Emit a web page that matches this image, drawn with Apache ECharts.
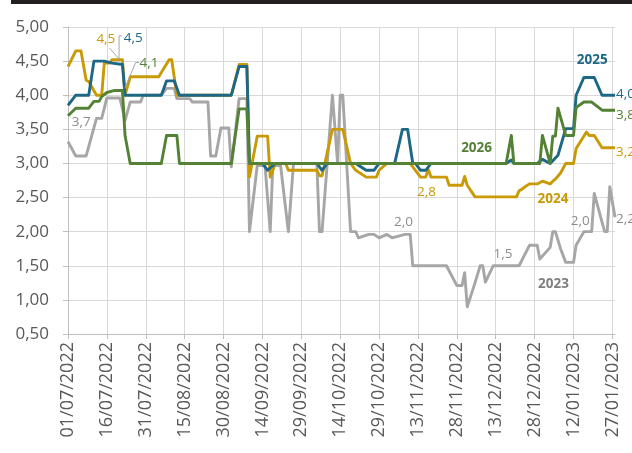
<!DOCTYPE html>
<html>
<head>
<meta charset="utf-8">
<script src="https://cdn.jsdelivr.net/npm/echarts@6/dist/echarts.min.js"></script>
<style>
html,body{margin:0;padding:0;background:#fff;}
#c{width:632px;height:453px;}
</style>
</head>
<body>
<div id="c"></div>
<script>
// x values are days counted from 01/07/2022
const tickLabels = ['01/07/2022','16/07/2022','31/07/2022','15/08/2022','30/08/2022','14/09/2022','29/09/2022','14/10/2022','29/10/2022','13/11/2022','28/11/2022','13/12/2022','28/12/2022','12/01/2023','27/01/2023'];
const seriesNames = ['2023','2024','2025','2026'];

const s2023 = [[0,3.32],[3,3.11],[7,3.11],[11,3.66],[13,3.66],[15,3.96],[20,3.96],[22,3.63],[24,3.9],[28,3.9],[29,4.0],[36,4.0],[38,4.1],[41,4.1],[42,3.95],[47,3.95],[48,3.9],[54,3.9],[55,3.11],[57,3.11],[59,3.52],[62,3.52],[63,2.95],[66,3.95],[69,3.95],[70,2.0],[73,2.97],[76,2.97],[78,2.0],[79,2.97],[82,2.97],[85,2.0],[87,3.0],[96,3.0],[97,2.0],[98,2.0],[102,4.0],[104,3.0],[105,4.0],[106,4.0],[109,2.0],[111,2.0],[112,1.91],[116,1.96],[118,1.96],[120,1.91],[123,1.96],[125,1.91],[130,1.96],[132,1.96],[133,1.5],[146,1.5],[150,1.21],[152,1.21],[153,1.4],[154,0.9],[157,1.25],[159,1.5],[160,1.5],[161,1.26],[164,1.5],[174,1.5],[178,1.8],[181,1.8],[182,1.6],[186,1.77],[187,2.0],[188,2.0],[190,1.75],[192,1.55],[195,1.55],[196,1.8],[199,2.0],[202,2.0],[203,2.56],[207,2.0],[208,2.0],[209,2.66],[211,2.21]];

const s2024 = [[0,4.42],[3,4.65],[5,4.65],[7,4.22],[8,4.2],[11,4.0],[13,4.0],[14,4.47],[16,4.47],[17,4.52],[21,4.52],[22,4.0],[24,4.27],[35,4.27],[39,4.52],[40,4.52],[42,4.0],[63,4.0],[66,4.45],[69,4.45],[70,2.8],[71,3.0],[73,3.4],[77,3.4],[78,2.8],[80,3.0],[84,3.0],[85,2.9],[96,2.9],[97,2.82],[98,2.82],[102,3.5],[106,3.5],[109,3.0],[111,2.9],[115,2.8],[119,2.8],[120,2.9],[123,3.0],[132,3.0],[134,2.9],[136,2.8],[138,2.8],[139,2.91],[140,2.8],[146,2.8],[147,2.68],[152,2.68],[153,2.81],[154,2.68],[157,2.51],[173,2.51],[174,2.6],[175,2.62],[176,2.65],[178,2.7],[181,2.7],[183,2.74],[186,2.7],[187,2.74],[188,2.77],[190,2.86],[192,3.0],[195,3.0],[196,3.22],[200,3.46],[201,3.41],[203,3.41],[206,3.23],[211,3.23]];

const s2025 = [[0,3.85],[3,4.0],[8,4.0],[10,4.5],[14,4.5],[17,4.47],[21,4.45],[22,4.0],[36,4.0],[38,4.21],[41,4.21],[43,4.0],[63,4.0],[66,4.42],[69,4.42],[70,3.0],[75,3.0],[77,2.9],[80,3.0],[96,3.0],[98,2.9],[100,3.0],[111,3.0],[115,2.9],[118,2.9],[120,3.0],[126,3.0],[129,3.5],[131,3.5],[133,3.0],[134,3.0],[136,2.9],[138,2.9],[140,3.0],[169,3.0],[171,3.05],[172,3.0],[181,3.0],[183,3.06],[186,3.0],[188,3.08],[189,3.12],[192,3.51],[195,3.51],[196,4.0],[199,4.26],[203,4.26],[206,4.0],[211,4.0]];

const s2026 = [[0,3.7],[3,3.81],[8,3.81],[10,3.91],[12,3.91],[13,3.98],[15,4.04],[18,4.07],[21,4.07],[22,3.41],[24,3.0],[36,3.0],[38,3.41],[42,3.41],[43,3.0],[63,3.0],[66,3.8],[69,3.8],[70,3.0],[169,3.0],[171,3.41],[172,3.0],[182,3.0],[183,3.41],[186,3.0],[187,3.4],[188,3.4],[189,3.81],[192,3.41],[195,3.41],[196,3.82],[199,3.9],[202,3.9],[206,3.78],[211,3.78]];

const COLORS = {'2023':'#A6A6A6','2024':'#C99A06','2025':'#1D6787','2026':'#548235'};
const TEXTC = {'2023':'#8C8C8C','2024':'#C99A06','2025':'#1D6787','2026':'#548235'};
const FONT = '"Open Sans", "Liberation Sans", sans-serif';

const chart = echarts.init(document.getElementById('c'), null, {renderer:'canvas'});
const dataBy = {'2023':s2023,'2024':s2024,'2025':s2025,'2026':s2026};

chart.setOption({
  animation:false,
  backgroundColor:'#fff',
  grid:{left:68, right:17, top:27, bottom:119, containLabel:false},
  xAxis:{
    type:'value', min:0, max:211, interval:15,
    axisLine:{show:true, lineStyle:{color:'#BFBFBF', width:1}},
    axisTick:{show:true, length:5, lineStyle:{color:'#BFBFBF'}},
    splitLine:{show:true, showMaxLine:false, lineStyle:{color:'#D9D9D9', width:1}},
    axisLabel:{
      rotate:90, margin:8, color:'#595959', fontFamily:FONT, fontSize:18, showMaxLabel:false,
      formatter:function(v){ return (v % 15 === 0) ? (tickLabels[v/15] || '') : ''; }
    }
  },
  yAxis:{
    type:'value', min:0.5, max:5, interval:0.5,
    axisLine:{show:true, lineStyle:{color:'#BFBFBF', width:1}},
    axisTick:{show:true, length:5, lineStyle:{color:'#BFBFBF'}},
    splitLine:{show:true, lineStyle:{color:'#D9D9D9', width:1}},
    axisLabel:{margin:19, color:'#595959', fontFamily:FONT, fontSize:17,
      formatter:function(v){ return v.toFixed(2).replace('.', ','); }}
  },
  series: seriesNames.map(function(n){
    return {name:n, type:'line', data:dataBy[n], symbol:'none', showSymbol:false,
      lineStyle:{color:COLORS[n], width:2.9, join:'round'}, itemStyle:{color:COLORS[n]}, z:2};
  })
});

// annotations anchored in data coordinates
const labels = [
  {t:'4,5', s:'2024', d:14.6, v:4.82},
  {t:'4,5', s:'2025', d:25.2, v:4.84},
  {t:'4,1', s:'2026', d:31.2, v:4.47},
  {t:'3,7', s:'2023', d:5.1, v:3.6},
  {t:'2025', s:'2025', d:202.2, v:4.52, b:true},
  {t:'4,0', s:'2025', d:211.4, v:4.02, a:'left'},
  {t:'3,8', s:'2026', d:211.4, v:3.71, a:'left'},
  {t:'3,2', s:'2024', d:211.4, v:3.17, a:'left'},
  {t:'2,2', s:'2023', d:211.4, v:2.18, a:'left'},
  {t:'2026', s:'2026', d:157.6, v:3.22, b:true},
  {t:'2,8', s:'2024', d:138.3, v:2.58},
  {t:'2024', s:'2024', d:187.1, v:2.48, b:true},
  {t:'2,0', s:'2023', d:129.4, v:2.14},
  {t:'1,5', s:'2023', d:167.8, v:1.67},
  {t:'2023', s:'2023', d:187.3, v:1.23, b:true},
  {t:'2,0', s:'2023', d:197.6, v:2.15}
];
const leaders = [
  [[16.1,4.69],[19.7,4.53]],
  [[20.7,4.87],[19.7,4.87],[19.7,4.53]],
  [[27.4,4.48],[26.1,4.48],[21.9,4.1]]
];
function px(p){ return chart.convertToPixel({gridIndex:0}, p); }
const els = [];
els.push({type:'rect', shape:{x:11, y:0, width:621, height:4}, style:{fill:'#231F20'}, z:100});
labels.forEach(function(l){
  const p = px([l.d, l.v]);
  els.push({type:'text', x:p[0], y:p[1], z:100, style:{
    text:l.t, fill:(l.b && l.s==='2023') ? '#7F7F7F' : TEXTC[l.s],
    font:(l.b ? 'bold ' : '') + '13.5px ' + FONT,
    textAlign:l.a || 'center', textVerticalAlign:'middle'}});
});
leaders.forEach(function(pts){
  els.push({type:'polyline', z:90, shape:{points:pts.map(px)}, style:{stroke:'#A6A6A6', lineWidth:1, fill:null}});
});
chart.setOption({graphic:{elements:els}});
</script>
</body>
</html>
